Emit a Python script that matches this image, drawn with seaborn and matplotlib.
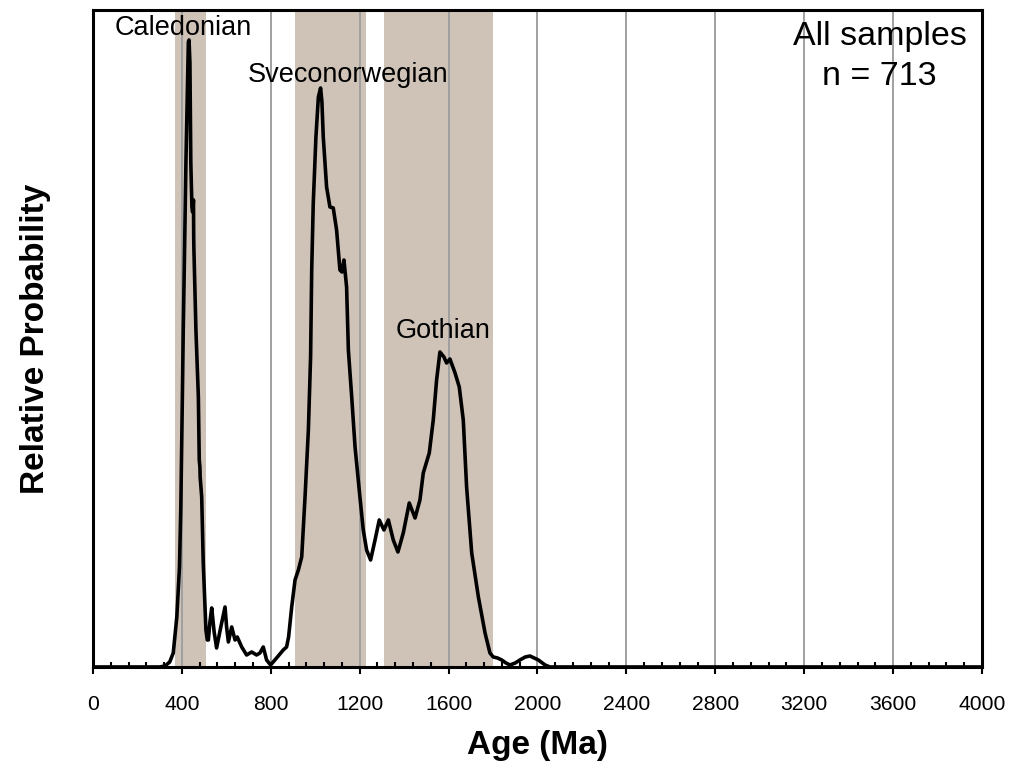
import matplotlib
matplotlib.use("Agg")
import matplotlib.pyplot as plt
import seaborn as sns
import pandas as pd

# ---- data ----
ages = [0, 300, 324, 345, 361, 377, 389, 395, 402, 406, 411, 418, 424, 429, 432, 436, 440,
        445, 448, 452, 453, 454, 463, 474, 478, 481, 482, 489, 496, 508, 514, 519, 526, 534,
        545, 556, 575, 594, 601, 609, 624, 639, 649, 669, 691, 714, 736, 751, 766, 781, 799,
        826, 856, 871, 880, 894, 909, 924, 939, 954, 969, 979, 984, 991, 1003, 1014, 1024,
        1030, 1036, 1051, 1066, 1081, 1096, 1111, 1120, 1129, 1141, 1149, 1164, 1179, 1201,
        1216, 1231, 1249, 1269, 1288, 1309, 1329, 1351, 1372, 1396, 1423, 1449, 1471, 1486,
        1513, 1531, 1546, 1561, 1579, 1591, 1606, 1629, 1648, 1666, 1681, 1704, 1734, 1764,
        1786, 1801, 1820, 1839, 1858, 1876, 1900, 1921, 1945, 1966, 1985, 2004, 2034, 2056,
        4000]
prob = [0, 0, 1, 5, 14, 50, 100, 160, 270, 337, 404, 504, 570, 625, 627, 604, 504,
        460, 455, 467, 430, 417, 337, 270, 207, 200, 190, 170, 104, 37, 27, 27, 45, 59,
        35, 19, 40, 60, 40, 25, 40, 27, 30, 20, 12, 15, 12, 14, 20, 7, 2,
        9, 17, 20, 30, 60, 87, 97, 110, 170, 237, 310, 397, 464, 530, 570, 579,
        565, 530, 480, 460, 459, 437, 397, 395, 407, 380, 317, 270, 220, 170,
        137, 117, 107, 127, 147, 137, 147, 127, 115, 134, 164, 149, 167, 194,
        214, 247, 287, 315, 310, 304, 308, 294, 280, 247, 180, 114, 70, 34,
        14, 10, 9, 7, 4, 2, 4, 7, 10, 11, 9, 7, 2, 0,
        0]

orogeny_names = ["Caledonian", "Sveconorwegian", "Gothian"]
orogeny_start = [370, 910, 1310]
orogeny_end = [510, 1230, 1800]
label_age = [405, 1147, 1575]
label_prob = [639, 592, 336]

x_ticks = list(range(0, 4001, 400))
title_lines = ["All samples", "n = 713"]

# ---- plotting ----
sns.set_style("white")
plt.rcParams["font.family"] = ["Liberation Sans", "DejaVu Sans"]
plt.rcParams["text.color"] = "black"
plt.rcParams["axes.labelcolor"] = "black"
plt.rcParams["xtick.color"] = "black"

fig = plt.figure(figsize=(10.09, 7.62), dpi=100)
ax = fig.add_axes([0.0922, 0.1247, 0.8810, 0.8622])

band_color = "#CFC3B8"
for s, e in zip(orogeny_start, orogeny_end):
    ax.axvspan(s, e, color=band_color, lw=0, zorder=0)

for t in x_ticks[1:-1]:
    ax.axvline(t, color="#A0A0A0", lw=1.4, zorder=1)

df = pd.DataFrame({"Age": ages, "Prob": prob})
sns.lineplot(data=df, x="Age", y="Prob", color="black", lw=2.6, ax=ax, zorder=3,
             sort=False, estimator=None)
for line in ax.get_lines():
    line.set_solid_joinstyle("round")

for name, xa, ya in zip(orogeny_names, label_age, label_prob):
    ax.text(xa, ya, name, ha="center", va="center", fontsize=19.5, zorder=4)

ax.text(0.885, 0.959, title_lines[0], transform=ax.transAxes, ha="center",
        va="center", fontsize=24.5)
ax.text(0.885, 0.898, title_lines[1], transform=ax.transAxes, ha="center",
        va="center", fontsize=24.5)

ax.set_xlim(0, 4000)
ax.set_ylim(0, 657)
ax.set_xticks(x_ticks)
ax.set_xticks(list(range(0, 4001, 80)), minor=True)
ax.set_yticks([])
ax.tick_params(axis="x", which="both", bottom=True, top=False)
ax.tick_params(axis="x", which="major", direction="out", length=5, width=1.5,
               labelsize=15.2, pad=15, color="black", labelcolor="black")
ax.tick_params(axis="x", which="minor", direction="in", length=3.5, width=1.5,
               color="black")
ax.set_xlabel("Age (Ma)", fontsize=24, fontweight="bold", labelpad=12)
ax.set_ylabel("Relative Probability", fontsize=24, fontweight="bold", labelpad=30)

for sp in ax.spines.values():
    sp.set_visible(True)
    sp.set_color("black")
    sp.set_linewidth(2.2)
    sp.set_zorder(5)

fig.savefig("out.png", dpi=100)
